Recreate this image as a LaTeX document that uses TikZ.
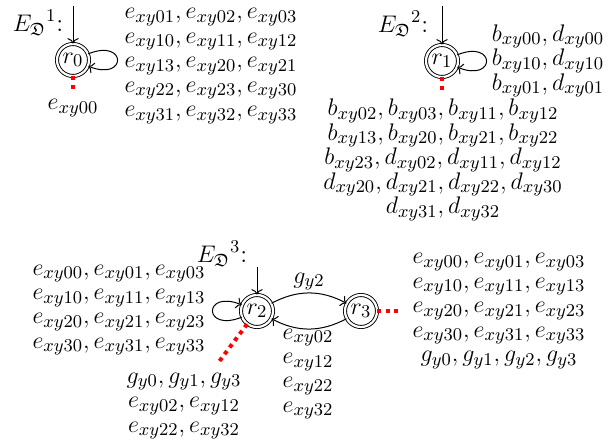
\documentclass[tikz,border=0pt]{standalone}
\usepackage{amssymb}
\usetikzlibrary{arrows.meta}
\begin{document}
\begin{tikzpicture}[x=0.5pt,y=-0.5pt,
  txt/.style={font=\fontsize{12.7}{12.2}\selectfont, align=center, inner sep=0pt},
  lbl/.style={font=\fontsize{12.7}{12.2}\selectfont, inner sep=0pt},
  st/.style={circle, draw, double, double distance=1.1pt, line width=0.45pt, minimum size=16pt, inner sep=0pt, font=\fontsize{12.7}{12.2}\selectfont},
  arr/.style={->, line width=0.5pt},
  reddots/.style={draw=red, line width=2pt, dash pattern=on 2pt off 2.2pt}
]
\useasboundingbox (0,0) rectangle (614,443);

% Panel 1
\node[lbl] (E1) at (38,23) {${E_{\mathfrak{D}}}^{1}$:};
\node[st] (r0) at (73,60) {$r_0$};
\coordinate (s0) at (73,6);
\draw[arr] (s0) -- (r0);
\draw[arr] (r0.22) .. controls +(22:21pt) and +(-22:21pt) .. (r0.-22);
\coordinate (d0) at (73,92);
\draw[reddots] (r0.south) -- (d0);
\node[txt] (t0) at (73,108) {$e_{xy00}$};
\node[txt] (t1) at (211,66) {$e_{xy01}, e_{xy02}, e_{xy03}$\\$e_{xy10}, e_{xy11}, e_{xy12}$\\$e_{xy13}, e_{xy20}, e_{xy21}$\\$e_{xy22}, e_{xy23}, e_{xy30}$\\$e_{xy31}, e_{xy32}, e_{xy33}$};

% Panel 2
\node[lbl] (E2) at (403,24) {${E_{\mathfrak{D}}}^{2}$:};
\node[st] (r1) at (442,61) {$r_1$};
\coordinate (s1) at (442,6);
\draw[arr] (s1) -- (r1);
\draw[arr] (r1.22) .. controls +(22:21pt) and +(-22:21pt) .. (r1.-22);
\coordinate (d1) at (442,93);
\draw[reddots] (r1.south) -- (d1);
\node[txt] (t2) at (548,61) {$b_{xy00}, d_{xy00}$\\$b_{xy10}, d_{xy10}$\\$b_{xy01}, d_{xy01}$};
\node[txt] (t3) at (443,160) {$b_{xy02}, b_{xy03}, b_{xy11}, b_{xy12}$\\$b_{xy13}, b_{xy20}, b_{xy21}, b_{xy22}$\\$b_{xy23}, d_{xy02}, d_{xy11}, d_{xy12}$\\$d_{xy20}, d_{xy21}, d_{xy22}, d_{xy30}$\\$d_{xy31}, d_{xy32}$};

% Panel 3
\node[lbl] (E3) at (222,254) {${E_{\mathfrak{D}}}^{3}$:};
\node[st] (r2) at (257,311) {$r_2$};
\node[st] (r3) at (361,311) {$r_3$};
\coordinate (s2) at (257,267);
\draw[arr] (s2) -- (r2);
\draw[arr] (r2.202) .. controls +(202:21pt) and +(158:21pt) .. (r2.158);
\draw[arr] (r2) to[bend left=28] node[lbl, above=1pt] (g2) {$g_{y2}$} (r3);
\draw[arr] (r3) to[bend left=28] (r2);
\coordinate (d2) at (218,363);
\draw[reddots] (r2.-127) -- (d2);
\coordinate (d3) at (402,311);
\draw[reddots] (r3.east) -- (d3);
\node[txt] (t4) at (119,310) {$e_{xy00}, e_{xy01}, e_{xy03}$\\$e_{xy10}, e_{xy11}, e_{xy13}$\\$e_{xy20}, e_{xy21}, e_{xy23}$\\$e_{xy30}, e_{xy31}, e_{xy33}$};
\node[txt] (t5) at (184,406) {$g_{y0}, g_{y1}, g_{y3}$\\$e_{xy02}, e_{xy12}$\\$e_{xy22}, e_{xy32}$};
\node[txt] (t6) at (308,374) {$e_{xy02}$\\$e_{xy12}$\\$e_{xy22}$\\$e_{xy32}$};
\node[txt] (t7) at (499,311) {$e_{xy00}, e_{xy01}, e_{xy03}$\\$e_{xy10}, e_{xy11}, e_{xy13}$\\$e_{xy20}, e_{xy21}, e_{xy23}$\\$e_{xy30}, e_{xy31}, e_{xy33}$\\$g_{y0}, g_{y1}, g_{y2}, g_{y3}$};
\end{tikzpicture}
\end{document}
